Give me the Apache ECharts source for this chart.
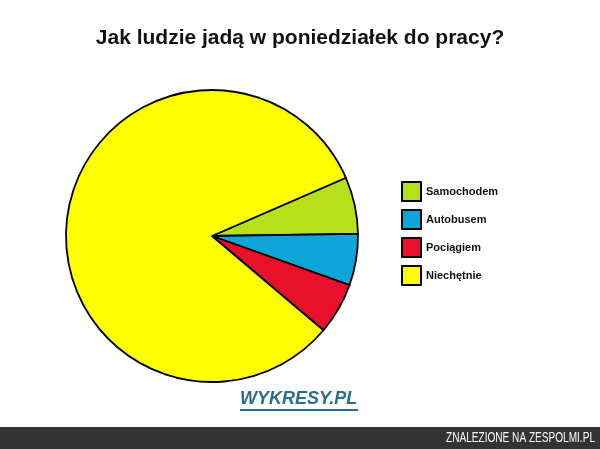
<!DOCTYPE html>
<html><head><meta charset="utf-8">
<script src="https://cdn.jsdelivr.net/npm/echarts@6/dist/echarts.min.js"></script>
<style>html,body{margin:0;padding:0;background:#fff}#c{width:600px;height:449px}</style>
</head><body><div id="c"></div>
<script>
var categories = ['Samochodem', 'Autobusem', 'Pociągiem', 'Niechętnie'];
var values = [6.3, 5.7, 5.7, 82.3];
var colors = ['#b8e01a', '#0ea6d8', '#e8102a', '#ffff00'];
var titleText = 'Jak ludzie jadą w poniedziałek do pracy?';

var chart = echarts.init(document.getElementById('c'));
chart.setOption({
  animation: false,
  backgroundColor: '#ffffff',
  title: {
    text: titleText, left: 'center', top: 23,
    textStyle: { fontFamily: 'Liberation Sans, Arial', fontWeight: 'bold', fontSize: 21, color: '#111' }
  },
  legend: {
    orient: 'vertical', left: 396, top: 176,
    itemWidth: 19, itemHeight: 19, itemGap: 7,
    icon: 'rect',
    itemStyle: { borderColor: '#000', borderWidth: 2 },
    textStyle: { fontFamily: 'Liberation Sans, Arial', fontWeight: 'bold', fontSize: 11, color: '#111' },
    data: categories
  },
  series: [{
    type: 'pie',
    center: [212, 236],
    radius: [0, 146],
    startAngle: 23.5,
    clockwise: true,
    label: { show: false },
    labelLine: { show: false },
    itemStyle: { borderColor: '#000', borderWidth: 1.8 },
    data: categories.map(function (c, i) {
      return { name: c, value: values[i], itemStyle: { color: colors[i] } };
    })
  }],
  graphic: [
    { type: 'text', left: 240, top: 390,
      style: { text: 'WYKRESY.PL', fill: '#2b6e8c', font: 'italic bold 18px "Liberation Sans", Arial' } },
    { type: 'rect', shape: { x: 240, y: 409, width: 118, height: 2 }, style: { fill: '#2b6e8c' } },
    { type: 'rect', shape: { x: 0, y: 427, width: 600, height: 22 }, style: { fill: '#333333' } },
    { type: 'text', x: 595, y: 431, scaleX: 0.72, originX: 0, originY: 0,
      style: { text: 'ZNALEZIONE NA ZESPOLMI.PL', fill: '#ffffff', align: 'right', verticalAlign: 'top',
               font: '14px "Liberation Sans", Arial' } }
  ]
});
</script></body></html>
